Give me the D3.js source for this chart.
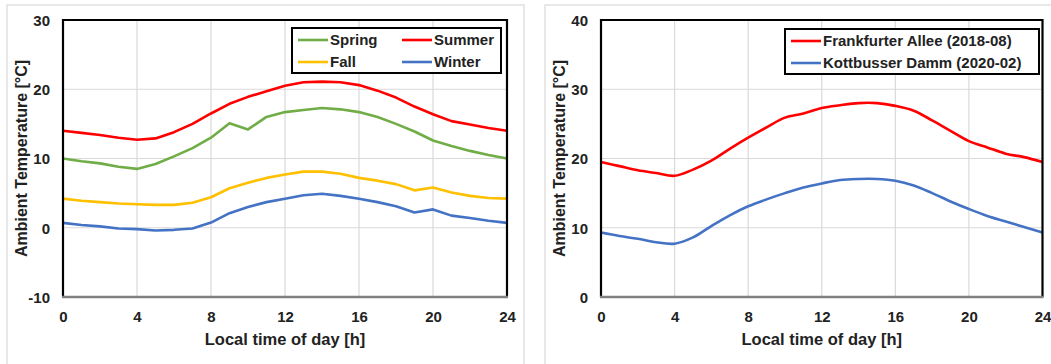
<!DOCTYPE html>
<html>
<head>
<meta charset="utf-8">
<script src="https://cdn.jsdelivr.net/npm/d3@7"></script>
<style>
  body { margin: 0; background: #fff; }
  svg { display: block; font-family: "Liberation Sans", Arial, sans-serif; }
  .tick text { font-weight: bold; font-size: 15px; fill: #222; }
  .title { font-weight: bold; font-size: 16.5px; fill: #222; }
  .ytitle { font-size: 16px; }
  .leg { font-weight: bold; font-size: 15px; fill: #222; }
</style>
</head>
<body>
<svg width="1051" height="364"></svg>
<script>
const hours = d3.range(0, 25);

// left chart: seasonal mean
const spring = [10.0, 9.6, 9.3, 8.8, 8.5, 9.2, 10.3, 11.5, 13.0, 15.1, 14.2, 16.0, 16.7, 17.0, 17.3, 17.1, 16.7, 16.0, 15.0, 13.9, 12.6, 11.8, 11.1, 10.5, 10.0];
const summer = [14.0, 13.7, 13.4, 13.0, 12.7, 12.9, 13.8, 15.0, 16.5, 17.9, 18.9, 19.7, 20.5, 21.0, 21.1, 21.0, 20.6, 19.8, 18.8, 17.5, 16.4, 15.4, 14.9, 14.4, 14.0];
const fall = [4.2, 3.9, 3.7, 3.5, 3.4, 3.3, 3.3, 3.6, 4.4, 5.7, 6.5, 7.2, 7.7, 8.1, 8.1, 7.8, 7.2, 6.8, 6.3, 5.4, 5.8, 5.1, 4.6, 4.3, 4.2];
const winter = [0.7, 0.4, 0.2, -0.1, -0.2, -0.4, -0.3, -0.1, 0.75, 2.1, 3.0, 3.7, 4.2, 4.7, 4.9, 4.6, 4.2, 3.7, 3.1, 2.2, 2.65, 1.75, 1.4, 1.0, 0.7];

// right chart: measurement months
const frankfurter = [19.5, 18.9, 18.3, 17.9, 17.5, 18.4, 19.7, 21.4, 23.0, 24.5, 25.9, 26.5, 27.3, 27.7, 28.0, 28.0, 27.6, 26.9, 25.5, 24.0, 22.5, 21.6, 20.7, 20.2, 19.5];
const kottbusser = [9.3, 8.8, 8.4, 7.9, 7.7, 8.6, 10.25, 11.8, 13.1, 14.1, 15.0, 15.8, 16.4, 16.9, 17.05, 17.05, 16.8, 16.1, 15.0, 13.8, 12.7, 11.7, 10.9, 10.1, 9.3];

const xTicks = [0, 4, 8, 12, 16, 20, 24];
const leftYTicks = [-10, 0, 10, 20, 30];
const rightYTicks = [0, 10, 20, 30, 40];

const svg = d3.select('svg');

function panel(opt) {
  const g = svg.append('g');

  // panel frame
  g.append('rect')
    .attr('x', opt.frame[0]).attr('y', opt.frame[1])
    .attr('width', opt.frame[2]).attr('height', 400)
    .attr('fill', 'none').attr('stroke', '#d9d9d9').attr('stroke-width', 1.2);

  const x = d3.scaleLinear().domain([0, 24]).range([opt.left, opt.right]);
  const y = d3.scaleLinear().domain(opt.yDomain).range([opt.bottom, opt.top]);

  // grid
  g.selectAll('.vg').data(xTicks.slice(1, -1)).enter().append('line')
    .attr('x1', d => x(d)).attr('x2', d => x(d))
    .attr('y1', opt.top).attr('y2', opt.bottom)
    .attr('stroke', '#d9d9d9').attr('stroke-width', 1.2);
  g.selectAll('.hg').data(opt.yTicks.slice(1, -1)).enter().append('line')
    .attr('x1', opt.left).attr('x2', opt.right)
    .attr('y1', d => y(d)).attr('y2', d => y(d))
    .attr('stroke', '#d9d9d9').attr('stroke-width', 1.2);

  // axes (labels only)
  const xa = g.append('g').attr('transform', `translate(0,${opt.bottom})`)
    .call(d3.axisBottom(x).tickValues(xTicks).tickSize(0).tickPadding(14));
  xa.select('.domain').remove();
  const ya = g.append('g').attr('transform', `translate(${opt.left},0)`)
    .call(d3.axisLeft(y).tickValues(opt.yTicks).tickFormat(d => String(d)).tickSize(0).tickPadding(13));
  ya.select('.domain').remove();
  ya.selectAll('text').attr('dy', '0.36em');

  // series
  opt.series.forEach(s => {
    const line = d3.line()
      .x((d, i) => x(hours[i]))
      .y(d => y(d))
      .curve(opt.smooth ? d3.curveCatmullRom.alpha(0.5) : d3.curveLinear);
    g.append('path').datum(s.values)
      .attr('d', line)
      .attr('fill', 'none')
      .attr('stroke', s.color)
      .attr('stroke-width', 2.6)
      .attr('stroke-linejoin', 'round');
  });

  // plot border
  g.append('path')
    .attr('d', `M${opt.left},${opt.bottom}V${opt.top}H${opt.right}V${opt.bottom}`)
    .attr('fill', 'none').attr('stroke', '#000').attr('stroke-width', 2.2);
  g.append('line')
    .attr('x1', opt.left - 1).attr('x2', opt.right + 1)
    .attr('y1', opt.bottom).attr('y2', opt.bottom)
    .attr('stroke', '#808080').attr('stroke-width', 2.6);

  // titles
  g.append('text').attr('class', 'title')
    .attr('x', (opt.left + opt.right) / 2).attr('y', 345)
    .attr('text-anchor', 'middle')
    .text('Local time of day [h]');
  g.append('text').attr('class', 'title ytitle')
    .attr('transform', `translate(${opt.frame[0] + 20},${(opt.top + opt.bottom) / 2}) rotate(-90)`)
    .attr('text-anchor', 'middle')
    .text('Ambient Temperature [°C]');

  // legend
  const L = opt.legend;
  g.append('rect')
    .attr('x', L.x).attr('y', L.y).attr('width', L.w).attr('height', L.h)
    .attr('fill', '#fff').attr('stroke', '#000').attr('stroke-width', 2);
  opt.series.forEach((s, i) => {
    const col = i % L.cols, row = Math.floor(i / L.cols);
    const lx = L.x + 6 + col * L.colW;
    const ly = L.y + 12 + row * 22;
    g.append('line')
      .attr('x1', lx).attr('x2', lx + 30)
      .attr('y1', ly).attr('y2', ly)
      .attr('stroke', s.color).attr('stroke-width', 2.6);
    g.append('text').attr('class', 'leg')
      .attr('x', lx + 32).attr('y', ly).attr('dy', '0.36em')
      .text(s.name);
  });
}

panel({
  frame: [7, 5, 517],
  left: 63, right: 507, top: 20, bottom: 297,
  yDomain: [-10, 30], yTicks: leftYTicks, smooth: false,
  series: [
    { name: 'Spring', values: spring, color: '#70ad47' },
    { name: 'Summer', values: summer, color: '#ff0000' },
    { name: 'Fall', values: fall, color: '#ffc000' },
    { name: 'Winter', values: winter, color: '#4472c4' }
  ],
  legend: { x: 292, y: 28, w: 209, h: 45, cols: 2, colW: 104 }
});

panel({
  frame: [545, 5, 520],
  left: 601, right: 1042.5, top: 20, bottom: 297,
  yDomain: [0, 40], yTicks: rightYTicks, smooth: true,
  series: [
    { name: 'Frankfurter Allee (2018-08)', values: frankfurter, color: '#ff0000' },
    { name: 'Kottbusser Damm (2020-02)', values: kottbusser, color: '#4472c4' }
  ],
  legend: { x: 785, y: 29, w: 254, h: 45, cols: 1, colW: 0 }
});
</script>
</body>
</html>
